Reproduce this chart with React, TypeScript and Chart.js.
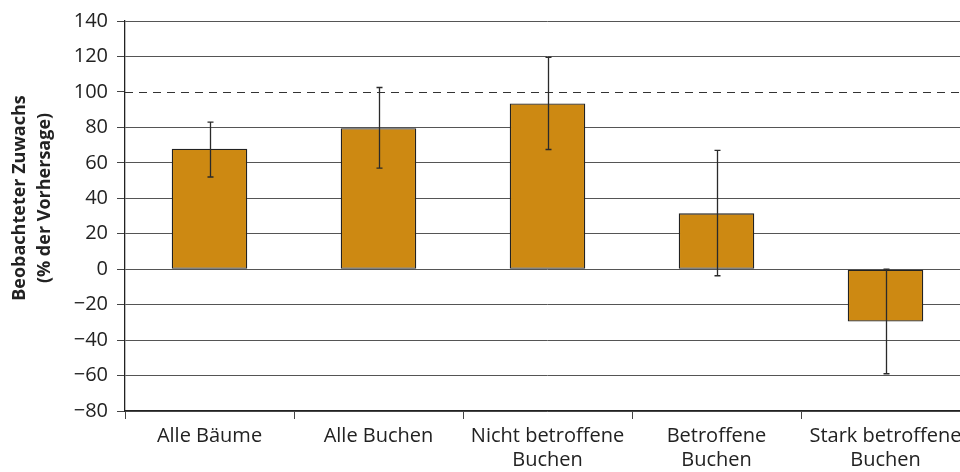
import React, { useEffect, useRef } from "react";
import { Chart, registerables } from "chart.js";

Chart.register(...registerables);

const categories: string[][] = [
  ["Alle Bäume"],
  ["Alle Buchen"],
  ["Nicht betroffene", "Buchen"],
  ["Betroffene", "Buchen"],
  ["Stark betroffene", "Buchen"],
];
const means: number[] = [68, 79.5, 93.5, 31.5, -29.5];
const errLow: number[] = [52, 57, 67.5, -3.7, -59];
const errHigh: number[] = [83, 102.5, 119.5, 67, 0];
const refLine = 100;
const yTicks: number[] = [140, 120, 100, 80, 60, 40, 20, 0, -20, -40, -60, -80];
const yTitle: string[] = ["Beobachteter Zuwachs", "(% der Vorhersage)"];

const FONT = "'Open Sans', sans-serif";

const overlayPlugin = {
  id: "overlay",
  beforeDatasetsDraw(chart: any) {
    const { ctx, chartArea, scales } = chart;
    const y = scales.y.getPixelForValue(refLine);
    ctx.save();
    ctx.strokeStyle = "#333";
    ctx.lineWidth = 1;
    ctx.setLineDash([8, 6]);
    ctx.beginPath();
    ctx.moveTo(chartArea.left, Math.round(y) + 0.5);
    ctx.lineTo(chartArea.right, Math.round(y) + 0.5);
    ctx.stroke();
    ctx.restore();
  },
  afterDatasetsDraw(chart: any) {
    const { ctx, scales } = chart;
    const meta = chart.getDatasetMeta(0);
    ctx.save();
    ctx.strokeStyle = "#2a2a2a";
    ctx.lineWidth = 1.3;
    meta.data.forEach((bar: any, i: number) => {
      const x = Math.round(bar.x) + 0.5;
      const yl = scales.y.getPixelForValue(errLow[i]);
      const yh = scales.y.getPixelForValue(errHigh[i]);
      ctx.beginPath();
      ctx.moveTo(x, yh);
      ctx.lineTo(x, yl);
      ctx.moveTo(x - 3, yh);
      ctx.lineTo(x + 3, yh);
      ctx.moveTo(x - 3, yl);
      ctx.lineTo(x + 3, yl);
      ctx.stroke();
    });
    ctx.restore();
    // y-axis title (two lines, rotated)
    ctx.save();
    ctx.fillStyle = "#222";
    ctx.font = "bold 18px " + FONT;
    ctx.textAlign = "center";
    ctx.textBaseline = "middle";
    yTitle.forEach((line, i) => {
      ctx.save();
      ctx.translate(20 + i * 25, 198);
      ctx.rotate(-Math.PI / 2);
      ctx.fillText(line, 0, 0);
      ctx.restore();
    });
    ctx.restore();
  },
};

export default function App() {
  const ref = useRef<HTMLCanvasElement | null>(null);
  useEffect(() => {
    if (!ref.current) return;
    const chart = new Chart(ref.current, {
      type: "bar",
      data: {
        labels: categories,
        datasets: [
          {
            data: means,
            backgroundColor: "#CD8912",
            borderColor: "#222",
            borderWidth: 1.3,
            borderSkipped: false,
            barPercentage: 0.447,
            categoryPercentage: 1,
          },
        ],
      },
      options: {
        responsive: false,
        animation: false,
        devicePixelRatio: 1,
        layout: { padding: { left: 0, top: 21, right: 10, bottom: 0 } },
        plugins: { legend: { display: false }, tooltip: { enabled: false } },
        scales: {
          x: {
            grid: {
              display: true,
              drawOnChartArea: false,
              drawTicks: true,
              tickLength: 8,
              tickColor: "#444",
              offset: true,
            },
            border: { display: true, color: "#222", width: 1.3 },
            ticks: {
              color: "#222",
              font: { family: FONT, size: 20, lineHeight: 1.2 },
              padding: 5,
              maxRotation: 0,
              autoSkip: false,
            },
            afterFit: (s: any) => {
              s.height = 61;
            },
          },
          y: {
            min: -80,
            max: 140,
            afterBuildTicks: (s: any) => {
              s.ticks = yTicks.map((v) => ({ value: v }));
            },
            grid: {
              color: (c: any) => (c.tick && c.tick.value === refLine ? "rgba(0,0,0,0)" : "#555"),
              lineWidth: 1,
              drawTicks: true,
              tickLength: 8,
              tickColor: "#444",
            },
            border: { display: true, color: "#222", width: 1.3 },
            ticks: {
              color: "#222",
              font: { family: FONT, size: 20 },
              padding: 9,
              callback: (v: any) => (Number(v) < 0 ? "\u2212" + Math.abs(Number(v)) : String(v)),
            },
            afterFit: (s: any) => {
              s.width = 125;
            },
          },
        },
      },
      plugins: [overlayPlugin],
    });
    return () => chart.destroy();
  }, []);
  return (
    <div style={{ position: "fixed", left: 0, top: 0, width: 960, height: 472, overflow: "hidden", background: "#fff" }}>
      <canvas ref={ref} width={980} height={472} style={{ display: "block" }} />
    </div>
  );
}
